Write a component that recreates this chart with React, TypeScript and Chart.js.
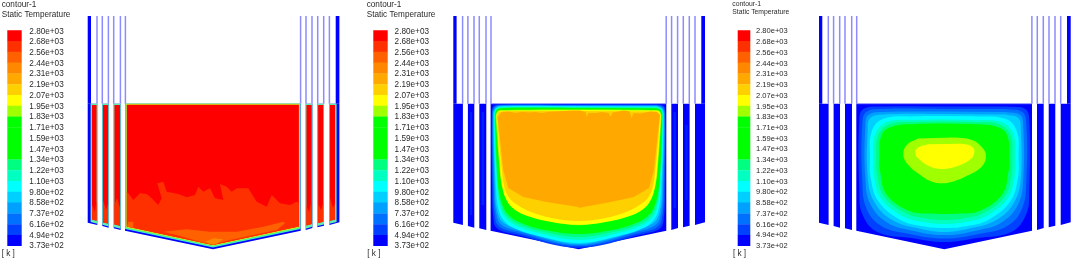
import React, { useEffect, useRef } from "react";
import { Chart, registerables } from "chart.js";

Chart.register(...registerables);

type Pt = [number, number];

// ---- legend ----
const tickLabels = ["2.80e+03","2.68e+03","2.56e+03","2.44e+03","2.31e+03","2.19e+03","2.07e+03","1.95e+03","1.83e+03","1.71e+03","1.59e+03","1.47e+03","1.34e+03","1.22e+03","1.10e+03","9.80e+02","8.58e+02","7.37e+02","6.16e+02","4.94e+02","3.73e+02"];
const bandColors = ["#ff0000","#ff3000","#ff6000","#ff8800","#ffa800","#ffd000","#ffff00","#a0ff00","#00ff00","#00ff00","#00ff00","#00ff00","#00ff80","#00ffc0","#00ffff","#00d0ff","#00a0ff","#0070ff","#0040ff","#0000ff"];
const titleLines = ["contour-1", "Static Temperature"];
const unitLabel = "[ k ]";

// ---- panel layout ----
const panelOffsets = [0, 365.6, 731.3];
const barLefts = [7.3, 373.3, 737.7];
const barRights = [21.7, 387.7, 750.3];
const labelRights = [63.7, 429, 787.7];
const titleXs = [1.7, 366.7, 732.3];
const titleFonts = [8.2, 8.2, 6.8];
const tickFonts = [8.2, 8.2, 7.55];
const titleY1 = [4.7, 4.7, 4];
const titleY2 = [14.3, 14.3, 11.7];
const barTop = 30.3;
const barBottom = 245.7;
const firstTick = 31.3;
const lastTick = 246;

// ---- reactor geometry (shared by all panels) ----
const wallLeft: Pt[] = [[87.7,16],[91,16],[91,103.7],[87.7,103.7]];
const wallRight: Pt[] = [[335.7,16],[339.4,16],[339.4,103.7],[335.7,103.7]];
const barA: Pt[] = [[87.7,103.7],[97.3,103.7],[97.3,225],[87.7,222.7]];
const barB: Pt[] = [[102.3,103.7],[108.7,103.7],[108.7,227.7],[102.3,226]];
const barC: Pt[] = [[113.7,103.7],[120.7,103.7],[120.7,230],[113.7,228.3]];
const mainBody: Pt[] = [[125,103.7],[300.7,103.7],[300.7,230.7],[213,249.3],[125,230.7]];
const barD: Pt[] = [[305.7,103.7],[312.4,103.7],[312.4,228],[305.7,230]];
const barE: Pt[] = [[317.4,103.7],[324,103.7],[324,225.7],[317.4,227.3]];
const barF: Pt[] = [[329.4,103.7],[339.4,103.7],[339.4,222.3],[329.4,225]];
const thinLineXs = [97, 102.3, 108.4, 113.7, 120.4, 125.4, 300.6, 306, 312, 317.7, 323.7, 329.4];

// ---- panel 1 ----
const p1EdgeA: Pt[] = [[90.6,103.7],[97.3,103.7],[97.3,223.8],[90.6,222]];
const p1EdgeB: Pt[] = [[102.3,103.7],[108.7,103.7],[108.7,226.4],[102.3,224.7]];
const p1EdgeC: Pt[] = [[113.7,103.7],[120.7,103.7],[120.7,228.7],[113.7,227]];
const p1EdgeD: Pt[] = [[305.7,103.7],[312.4,103.7],[312.4,226.7],[305.7,228.7]];
const p1EdgeE: Pt[] = [[317.4,103.7],[324,103.7],[324,224.4],[317.4,226]];
const p1EdgeF: Pt[] = [[329.4,103.7],[336.6,103.7],[336.6,222],[329.4,223.8]];
const p1EdgeMain: Pt[] = [[125.1,103.7],[300.6,103.7],[300.6,229],[213,247.5],[125.1,229]];
const p1GreenMain: Pt[] = [[125.8,103.7],[299.9,103.7],[299.9,228.2],[213,246.6],[125.8,228.2]];
const p1YellowMain: Pt[] = [[126.3,103.7],[299.4,103.7],[299.4,227.4],[213,245.8],[126.3,227.4]];
const p1RedA: Pt[] = [[92,105],[96.6,105],[96.6,220.8],[92,219.6]];
const p1RedB: Pt[] = [[103,105],[108,105],[108,223.6],[103,222.4]];
const p1RedC: Pt[] = [[114.4,105],[120,105],[120,225.8],[114.4,224.6]];
const p1RedD: Pt[] = [[306.4,105],[311.7,105],[311.7,224],[306.4,225.6]];
const p1RedE: Pt[] = [[318.1,105],[323.3,105],[323.3,221.8],[318.1,223]];
const p1RedF: Pt[] = [[330,105],[335,105],[335,219.6],[330,220.8]];
const p1RedMain: Pt[] = [[126.8,104.8],[298.9,104.8],[298.9,226.6],[213,244.9],[126.8,226.6]];
const p1ShadeA: Pt[] = [[92,205],[95,212],[96.6,200],[96.6,220.8],[92,219.6]];
const p1ShadeB: Pt[] = [[103,200],[106,210],[108,204],[108,223.6],[103,222.4]];
const p1ShadeC: Pt[] = [[114.4,205],[117,198],[120,208],[120,225.8],[114.4,224.6]];
const p1ShadeD: Pt[] = [[306.4,206],[309,212],[311.7,200],[311.7,224],[306.4,225.6]];
const p1ShadeE: Pt[] = [[318.1,204],[321,210],[323.3,202],[323.3,221.8],[318.1,223]];
const p1ShadeF: Pt[] = [[330,198],[333,208],[335,203],[335,219.6],[330,220.8]];
const p1Orange: Pt[] = [[126.8,192],[128.3,193.3],[133.3,200],[140,193.3],[146.7,194],[151.7,198.3],[158.3,205],[161.7,198.3],[157.3,183.3],[163.3,181.7],[166.7,191.7],[178.3,194],[186.7,197.3],[195,195],[198.3,186.7],[203.3,191.7],[210,188.3],[215,198.3],[223.3,200],[220,184],[226.7,186.7],[231.7,191.7],[236.7,188.3],[248.3,188.3],[256.7,201.7],[266.7,206.7],[271.7,195],[280,203.3],[290,205],[296.7,201.7],[298.9,203.3],[298.9,226.6],[213,244.9],[126.8,226.6]];
const p1Deep: Pt[] = [[163.3,231.7],[186.7,229.3],[210,231.7],[236.7,231.7],[263.3,226.7],[283.3,221.7],[285,223.3],[276.7,230],[253.3,235],[226.7,240.7],[213.3,244.8],[200,241.7],[176.7,235]];
const p1DeepLeft: Pt[] = [[126.8,226.6],[128.3,221.7],[133.3,221.7],[133.3,228]];
const p1Deepest: Pt[] = [[205,241.7],[213.3,238.3],[223.3,239.3],[216.7,243.5],[213.3,244.7],[208.3,243.3]];

// ---- panel 2: left halves of nested contours, from top centre to bottom centre ----
const centerX = 213;
const p2Contours: [string, Pt[]][] = [
  ["#0040ff", [[213,104.5],[135,104.5],[128,106],[126.2,112],[126.5,190],[127.5,215],[131,228],[150,234.5],[213,247.8]]],
  ["#0070ff", [[213,105],[135,105],[128.7,106.8],[126.7,113],[127.5,190],[128.7,212],[133,226],[152,233],[213,246.3]]],
  ["#00a0ff", [[213,105.5],[135,105.5],[129.3,107.5],[127.2,113.5],[128.5,190],[130,210],[135,224],[154,231.5],[213,245]]],
  ["#00d0ff", [[213,106],[135,106],[130,108],[127.7,114],[129.5,190],[131,208],[137,222],[156,230],[213,244]]],
  ["#00ffff", [[213,106.5],[135,106.7],[130.5,108.7],[128.2,115],[130.5,190],[132.7,208],[136.5,218],[146,227],[169,235],[213,243]]],
  ["#00ffc0", [[213,107],[135,107.2],[130.7,109.2],[128.6,115.5],[131.5,190],[133.8,205],[138,216],[149,225],[173,233],[213,240]]],
  ["#00ff80", [[213,107.5],[135,107.7],[130.9,109.7],[129,116],[132.5,190],[135,204],[139.5,214.5],[151,223.5],[176,231.5],[213,237]]],
  ["#00ff00", [[213,108],[135,108.2],[131,110],[129.5,117],[131.7,175],[133.4,192],[136,203],[141,213],[153,222],[179,230],[213,234]]],
  ["#a0ff00", [[213,109.5],[190,109.5],[140,110],[133,110.5],[130.5,114],[130.3,120],[134.5,175],[136.5,187],[139.5,197],[145.5,206.5],[158.5,214.5],[185.5,221.5],[213,225.3]]],
  ["#ffff00", [[213,110],[190,110.3],[140,110.8],[133,111.2],[131,114.5],[131,120],[135,175],[137,188],[140,198],[146,207],[159,215],[186,222],[213,224.7]]],
  ["#ffd000", [[213,111],[135,111.5],[132,114],[131.7,120],[136.5,172],[139,188],[143,197],[149,203],[163,211],[186,218],[213,221]]],
];
const p2Core: Pt[] = [[132,116.7],[136,112],[143,111.5],[150,113],[157,111.7],[163,112.5],[170,112],[176,113],[184,111.7],[195,111.3],[205,110.5],[215,110.5],[220,112],[221,117],[223,113],[231,113],[236,112],[243,113],[245,117],[247,112.5],[258,110.5],[264,111.5],[266,118],[268,113],[275,113.5],[285,111.5],[291,112],[294.5,115],[294,117],[291.5,140],[288.3,170],[283.3,188],[268.3,197],[245,202],[218,207],[213.5,208],[213,207],[181,202],[157.7,197],[142.7,188],[137.7,170],[134.4,140]];
const p2TintB: Pt[] = [[104.5,112],[106.5,112],[106.5,215],[104.5,215]];
const p2TintC: Pt[] = [[116,112],[118.5,112],[118.5,205],[116,205]];
const p2TintE: Pt[] = [[319.7,125],[322,125],[322,200],[319.7,200]];
const p2TintD: Pt[] = [[308,112],[310.3,112],[310.3,208],[308,208]];

// ---- panel 3 ----
const p3Contours: [string, Pt[]][] = [
  ["#0040ff", [[213,106.5],[150,106.5],[132,109],[128,120],[128,190],[131,214],[146,232],[180,238],[213,242]]],
  ["#0070ff", [[213,109],[152,109],[135,112],[131,124],[131,180],[135,208],[150,226],[178,234],[213,238.5]]],
  ["#00a0ff", [[213,111.5],[152,112],[137,115],[134,127],[134,178],[139,204],[155,222],[178,230],[213,235]]],
  ["#00d0ff", [[213,114],[152,114.5],[139,118],[136.5,129],[136.5,178],[143,202],[161,220],[190,229],[213,232]]],
  ["#00ffff", [[213,116],[185,116.3],[152,118.7],[140.4,131.3],[138.7,158],[139.4,178],[147,201.3],[168.7,219.7],[190,226],[213,228]]],
  ["#00ffc0", [[213,119.5],[185,120],[156,122],[144,134],[142,158],[143,178],[150,199],[171,216],[192,222],[213,224]]],
  ["#00ff80", [[213,121.5],[185,122],[159,124],[147,135],[145,158],[146,176],[153,197],[175,213.5],[195,218.5],[213,220]]],
  ["#00ff00", [[213,123.5],[185.4,124],[162,126.3],[150.4,134.7],[148,158],[148.7,171],[155.4,194.7],[178.7,211.3],[198,213.6],[213,214]]],
];
const p3Lime: Pt[] = [[210,137.8],[227,137.7],[240,139.8],[249,145.5],[254.7,155],[250.4,166.7],[233.7,176.7],[220,182],[210.4,183.3],[200,181.5],[190.4,176],[177,165],[172,155],[175.4,145],[187,138.6]];
const p3Yellow: Pt[] = [[215,144],[233.7,144.3],[241,147],[243,151],[240.4,158.3],[227,165.7],[210.4,169],[197,165.7],[188.7,160],[183.7,153.3],[187,147.5],[197,144.3]];

// ---- helpers ----
const mirrored = (half: Pt[]): Pt[] => [
  ...half,
  ...half.slice(1, -1).reverse().map(([x, y]) => [2 * centerX - x, y] as Pt),
];

const shape = (pts: Pt[], offset: number, color: string, tension = 0) => ({
  type: "scatter" as const,
  data: pts.map(([x, y]) => ({ x: x + offset, y })),
  showLine: true,
  fill: "shape",
  backgroundColor: color,
  borderColor: color,
  borderWidth: 0,
  pointRadius: 0,
  tension,
});

const stroke = (pts: Pt[], offset: number, color: string, width: number) => ({
  type: "scatter" as const,
  data: pts.map(([x, y]) => ({ x: x + offset, y })),
  showLine: true,
  fill: false,
  borderColor: color,
  backgroundColor: color,
  borderWidth: width,
  pointRadius: 0,
});

function buildDatasets() {
  const out: any[] = [];
  panelOffsets.forEach((off, p) => {
    const step = (barBottom - barTop) / bandColors.length;
    bandColors.forEach((c, i) => {
      out.push(shape([[barLefts[p], barTop + i * step], [barRights[p], barTop + i * step], [barRights[p], barTop + (i + 1) * step + 0.3], [barLefts[p], barTop + (i + 1) * step + 0.3]], 0, c));
    });
    [wallLeft, wallRight, barA, barB, barC, mainBody, barD, barE, barF].forEach((s) => out.push(shape(s, off, "#0000ff")));
    thinLineXs.forEach((x) => out.push(stroke([[x, 16], [x, 103.7]], off, "#8c8cff", 1.5)));
    if (p > 0) out.push(stroke([[125, 103.7], [300.7, 103.7]], off, "#8c8cff", 0.8));
    if (p === 0) {
      [p1EdgeA, p1EdgeB, p1EdgeC, p1EdgeD, p1EdgeE, p1EdgeF].forEach((s) => out.push(shape(s, off, "#60eeb0")));
      out.push(shape(p1EdgeMain, off, "#40eec8"));
      out.push(shape(p1GreenMain, off, "#50f080"));
      out.push(shape(p1YellowMain, off, "#c8f020"));
      [p1RedA, p1RedB, p1RedC, p1RedD, p1RedE, p1RedF].forEach((s) => out.push(shape(s, off, "#ff0000")));
      out.push(shape(p1RedMain, off, "#ff0000"));
      [p1ShadeA, p1ShadeB, p1ShadeC, p1ShadeD, p1ShadeE, p1ShadeF, p1Orange].forEach((s) => out.push(shape(s, off, "#ff3000")));
      [p1Deep, p1DeepLeft].forEach((s) => out.push(shape(s, off, "#ff6000")));
      out.push(shape(p1Deepest, off, "#ff8800"));
    }
    if (p === 1) {
      [p2TintB, p2TintC, p2TintD, p2TintE].forEach((s) => out.push(shape(s, off, "#0020ff")));
      p2Contours.forEach(([c, half]) => out.push(shape(mirrored(half), off, c, 0.35)));
      out.push(shape(p2Core, off, "#ffa800"));
    }
    if (p === 2) {
      p3Contours.forEach(([c, half]) => out.push(shape(mirrored(half), off, c, 0.4)));
      out.push(shape(p3Lime, off, "#a0ff00", 0.4));
      out.push(shape(p3Yellow, off, "#ffff00", 0.4));
    }
  });
  out.forEach((d, i) => { d.order = out.length - i; });
  return out;
}

const FONT = '"Liberation Sans", Arial, sans-serif';

const tickPositions = tickLabels.map((_, i) => firstTick + (i * (lastTick - firstTick)) / (tickLabels.length - 1));

function legendAxis(p: number) {
  return {
    type: "linear",
    axis: "y",
    position: { x: labelRights[p] },
    min: 0,
    max: 260,
    reverse: true,
    border: { display: false },
    grid: { display: false, drawTicks: false },
    afterBuildTicks: (axis: any) => {
      axis.ticks = tickPositions.map((value) => ({ value }));
    },
    afterFit: (axis: any) => {
      axis.paddingTop = 0;
      axis.paddingBottom = 0;
    },
    ticks: {
      autoSkip: false,
      padding: 0,
      color: "#2a2a2a",
      font: { family: FONT, size: tickFonts[p] },
      callback: (_v: any, i: number) => tickLabels[i],
    },
  };
}

const panelText = {
  id: "panelText",
  afterDatasetsDraw(chart: any) {
    const { ctx, scales } = chart;
    ctx.save();
    ctx.fillStyle = "#2a2a2a";
    ctx.textAlign = "left";
    ctx.textBaseline = "middle";
    panelOffsets.forEach((_, p) => {
      const x = scales.x.getPixelForValue(titleXs[p]);
      ctx.font = `${titleFonts[p]}px ${FONT}`;
      ctx.fillText(titleLines[0], x, scales.y.getPixelForValue(titleY1[p]));
      ctx.fillText(titleLines[1], x, scales.y.getPixelForValue(titleY2[p]));
      ctx.font = `8.2px ${FONT}`;
      ctx.fillText(unitLabel, x + (p === 0 ? 0 : 0.6), scales.y.getPixelForValue(254));
    });
    ctx.restore();
  },
};

export default function App() {
  const ref = useRef<HTMLCanvasElement>(null);
  useEffect(() => {
    const chart = new Chart(ref.current!, {
      type: "scatter",
      data: { datasets: buildDatasets() },
      plugins: [panelText],
      options: {
        animation: false,
        responsive: false,
        maintainAspectRatio: false,
        layout: { padding: 0 },
        plugins: { legend: { display: false }, tooltip: { enabled: false }, title: { display: false } },
        scales: {
          x: { type: "linear", min: 0, max: 1072, display: false },
          y: { type: "linear", min: 0, max: 260, reverse: true, display: false },
          t0: legendAxis(0),
          t1: legendAxis(1),
          t2: legendAxis(2),
        },
      },
    } as any);
    return () => chart.destroy();
  }, []);
  return (
    <div style={{ position: "fixed", left: 0, top: 0, width: 1072, height: 260, background: "#fff" }}>
      <canvas ref={ref} width={1072} height={260} style={{ display: "block", filter: "blur(0.45px)" }} />
    </div>
  );
}
